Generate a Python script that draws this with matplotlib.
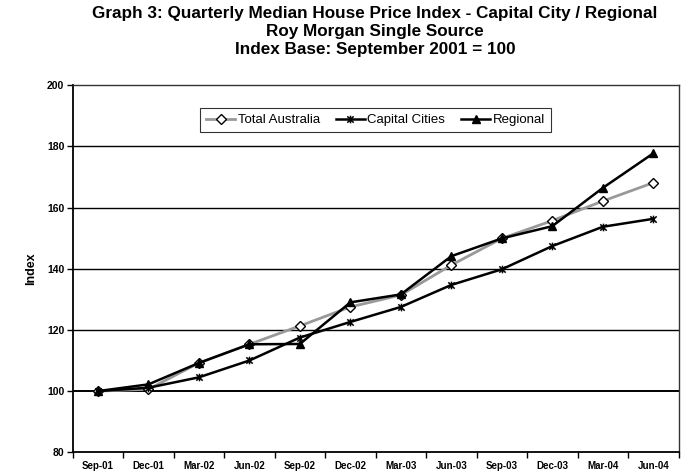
import matplotlib
matplotlib.use("Agg")
import matplotlib.pyplot as plt
import numpy as np
from matplotlib.path import Path

quarters = ["Sep-01", "Dec-01", "Mar-02", "Jun-02", "Sep-02", "Dec-02",
            "Mar-03", "Jun-03", "Sep-03", "Dec-03", "Mar-04", "Jun-04"]
total_australia = [100.0, 100.6, 109.2, 115.3, 121.3, 127.5, 131.4, 141.2, 149.9, 155.7, 162.1, 168.1]
capital_cities = [100.0, 101.1, 104.5, 110.0, 117.5, 122.6, 127.5, 134.7, 139.8, 147.4, 153.7, 156.3]
regional = [100.0, 102.2, 109.2, 115.3, 115.4, 129.0, 131.6, 144.1, 149.9, 153.9, 166.4, 177.7]
y_ticks = [80, 100, 120, 140, 160, 180, 200]

plt.rcParams['font.family'] = ['Liberation Sans', 'DejaVu Sans']

fig = plt.figure(figsize=(6.82, 4.76), dpi=100)
ax = fig.add_axes([0.1066, 0.0498, 0.9949 - 0.1066, 0.8212 - 0.0498])

x = np.arange(len(quarters))

# asterisk-like marker: X plus vertical bar
star = Path([(-1, -1), (1, 1), (-1, 1), (1, -1), (0, -1.2), (0, 1.2)],
            [Path.MOVETO, Path.LINETO, Path.MOVETO, Path.LINETO, Path.MOVETO, Path.LINETO])

for yv in y_ticks[1:-1]:
    ax.axhline(yv, color='black', lw=1.4 if yv == 100 else 1.0, zorder=1)

ax.plot(x, total_australia, color='#999999', lw=2, marker='D', markersize=5.5,
        markerfacecolor='white', markeredgecolor='black', markeredgewidth=1.0,
        label='Total Australia', zorder=3)
ax.plot(x, capital_cities, color='black', lw=1.8, marker=star, markersize=5.5,
        markeredgewidth=1.1, label='Capital Cities', zorder=4)
ax.plot(x, regional, color='black', lw=1.8, marker='^', markersize=6,
        markerfacecolor='black', markeredgecolor='black', label='Regional', zorder=5)

ax.set_xlim(-0.5, len(quarters) - 0.5)
ax.set_ylim(80, 200)
ax.set_yticks(y_ticks)
ax.set_yticklabels([str(v) for v in y_ticks], fontsize=7.5, fontweight='bold')
ax.set_xticks(x)
ax.set_xticklabels(quarters, fontsize=7, fontweight='bold')
ax.tick_params(axis='x', length=0, pad=6)
ax.set_xticks(np.arange(-0.5, len(quarters) + 0.5), minor=True)
ax.tick_params(axis='x', which='minor', length=4, width=1, direction='out')
ax.tick_params(axis='y', length=4, width=1, direction='out', pad=2)

for s in ['left', 'bottom']:
    ax.spines[s].set_linewidth(1.3)
for s in ['top', 'right']:
    ax.spines[s].set_linewidth(1.0)
    ax.spines[s].set_color('#333333')

ax.set_ylabel('Index', fontsize=9, fontweight='bold', labelpad=7)

leg = ax.legend(loc='upper center', bbox_to_anchor=(0.5, 0.955), ncol=3, frameon=True,
                fancybox=False, edgecolor='black', fontsize=9.5, handlelength=2.2,
                handletextpad=0.2, columnspacing=1.2, borderpad=0.45)
leg.get_frame().set_linewidth(0.8)

fig.text(0.55, 0.988, "Graph 3: Quarterly Median House Price Index - Capital City / Regional\n"
         "Roy Morgan Single Source\nIndex Base: September 2001 = 100",
         ha='center', va='top', fontsize=12.3, fontweight='bold', linespacing=1.28)

fig.savefig('out.png', dpi=100)
